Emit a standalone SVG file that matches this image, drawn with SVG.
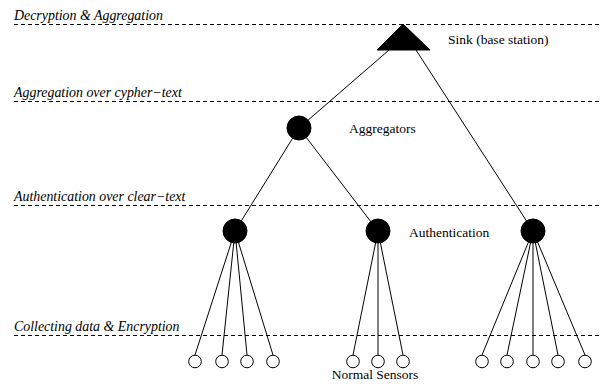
<svg xmlns="http://www.w3.org/2000/svg" width="602" height="389" viewBox="0 0 602 389">
<style>
.lvl{stroke:#000;stroke-width:1;stroke-dasharray:4,3;fill:none}
.lt{font-family:"Liberation Serif",serif;font-style:italic;font-size:13.9px;fill:#000}
.lb{font-family:"Liberation Serif",serif;font-size:13.5px;fill:#000}
.edge{stroke:#000;stroke-width:1;fill:none}
.hub{fill:#000;stroke:#000}
.sensor{fill:#fff;stroke:#000;stroke-width:1}
</style>
<rect width="602" height="389" fill="#fff"/>
<g id="levels">
<line class="lvl" x1="14" y1="24.5" x2="602" y2="24.5"/>
<line class="lvl" x1="14" y1="101.5" x2="602" y2="101.5"/>
<line class="lvl" x1="14" y1="205.5" x2="602" y2="205.5"/>
<line class="lvl" x1="14" y1="335.5" x2="602" y2="335.5"/>
<text class="lt" x="14" y="20">Decryption &amp; Aggregation</text>
<text class="lt" x="14" y="97">Aggregation over cypher−text</text>
<text class="lt" x="14" y="201">Authentication over clear−text</text>
<text class="lt" x="14" y="331">Collecting data &amp; Encryption</text>
</g>
<g id="connectors">
<line class="edge" x1="389" y1="50" x2="299" y2="128"/>
<line class="edge" x1="416" y1="50" x2="533" y2="231"/>
<line class="edge" x1="299" y1="128" x2="235" y2="231"/>
<line class="edge" x1="299" y1="128" x2="378" y2="231"/>
<line class="edge" x1="235" y1="231" x2="195" y2="355"/>
<line class="edge" x1="235" y1="231" x2="222" y2="355"/>
<line class="edge" x1="235" y1="231" x2="247" y2="355"/>
<line class="edge" x1="235" y1="231" x2="273" y2="355"/>
<line class="edge" x1="378" y1="231" x2="353" y2="355"/>
<line class="edge" x1="378" y1="231" x2="378" y2="355"/>
<line class="edge" x1="378" y1="231" x2="403" y2="355"/>
<line class="edge" x1="533" y1="231" x2="482" y2="355"/>
<line class="edge" x1="533" y1="231" x2="507" y2="355"/>
<line class="edge" x1="533" y1="231" x2="533" y2="355"/>
<line class="edge" x1="533" y1="231" x2="558" y2="355"/>
<line class="edge" x1="533" y1="231" x2="585" y2="355"/>
</g>
<g id="sink">
<polygon class="hub" points="403,24 377,50 430,50"/>
<text class="lb" x="448" y="44">Sink (base station)</text>
</g>
<g id="aggregator">
<circle class="hub" cx="299" cy="128" r="12"/>
<text class="lb" x="349" y="133">Aggregators</text>
</g>
<g id="auth-left"><circle class="hub" cx="235" cy="231" r="12"/></g>
<g id="auth-mid">
<circle class="hub" cx="378" cy="231" r="12"/>
<text class="lb" x="409" y="237">Authentication</text>
</g>
<g id="auth-right"><circle class="hub" cx="533" cy="231" r="12"/></g>
<g id="sensors">
<circle class="sensor" cx="195" cy="361.5" r="6.3"/>
<circle class="sensor" cx="222" cy="361.5" r="6.3"/>
<circle class="sensor" cx="247" cy="361.5" r="6.3"/>
<circle class="sensor" cx="273" cy="361.5" r="6.3"/>
<circle class="sensor" cx="353" cy="361.5" r="6.3"/>
<circle class="sensor" cx="378" cy="361.5" r="6.3"/>
<circle class="sensor" cx="403" cy="361.5" r="6.3"/>
<circle class="sensor" cx="482" cy="361.5" r="6.3"/>
<circle class="sensor" cx="507" cy="361.5" r="6.3" stroke-width="1.5"/>
<circle class="sensor" cx="533" cy="361.5" r="6.3"/>
<circle class="sensor" cx="558" cy="361.5" r="6.3"/>
<circle class="sensor" cx="585" cy="361.5" r="6.3"/>
<text class="lb" x="375" y="379" text-anchor="middle">Normal Sensors</text>
</g>
</svg>
